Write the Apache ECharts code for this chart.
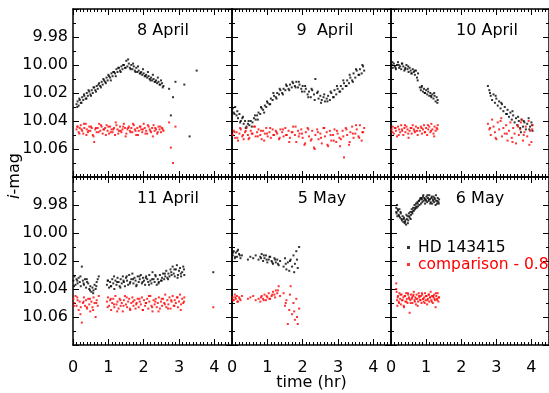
<!DOCTYPE html>
<html>
<head>
<meta charset="utf-8">
<script src="https://cdn.jsdelivr.net/npm/echarts@6/dist/echarts.min.js"></script>
<style>
  html, body { margin: 0; padding: 0; background: #fff; }
  #chart { width: 549px; height: 393px; }
</style>
</head>
<body>
<div id="chart"></div>
<script>
// i-band light curves of HD 143415 and the comparison star (offset by -0.8 mag)
// time in hours since start of each night

// ---- 8 April ----
const t8Apr = [
  0.10,0.13,0.16,0.19,0.22,0.26,0.29,0.32,0.36,0.39,
  0.42,0.46,0.49,0.53,0.56,0.60,0.63,0.67,0.70,0.74,
  0.77,0.81,0.84,0.88,0.91,0.95,0.98,1.02,1.05,1.09,
  1.12,1.16,1.19,1.23,1.26,1.30,1.33,1.37,1.40,1.44,
  1.47,1.51,1.54,1.58,1.61,1.65,1.68,1.72,1.75,1.79,
  1.82,1.86,1.89,1.93,1.96,2.00,2.03,2.07,2.10,2.14,
  2.17,2.21,2.24,2.28,2.31,2.35,2.38,2.42,2.45,2.49,
  2.52,2.56,2.72,2.77,2.83,2.90,3.15,3.30,3.50,
  0.12,0.18,0.24,0.31,0.38,0.44,0.51,0.58,0.65,0.72,
  0.79,0.86,0.93,1.00,1.07,1.14,1.21,1.28,1.35,1.42,
  1.49,1.56,1.63,1.70,1.77,1.84,1.91,1.98,2.05,2.12,
  2.19,2.26,2.33,2.40,2.47,2.54
];
const hd8Apr = [
  10.028,10.026,10.029,10.025,10.027,10.023,10.025,10.022,10.024,10.020,
  10.022,10.019,10.021,10.018,10.020,10.016,10.018,10.015,10.017,10.013,
  10.015,10.012,10.014,10.011,10.012,10.009,10.011,10.008,10.009,10.006,
  10.008,10.005,10.006,10.003,10.005,10.002,10.004,10.001,10.003,10.000,
  10.002,9.997,10.001,9.999,10.002,10.000,10.003,10.001,10.004,10.002,
  10.005,10.004,10.006,10.005,10.007,10.006,10.008,10.007,10.009,10.008,
  10.010,10.009,10.011,10.010,10.012,10.011,10.013,10.012,10.014,10.011,
  10.013,10.015,10.017,10.036,10.023,10.012,10.014,10.051,10.004,
  10.030,10.024,10.027,10.021,10.024,10.018,10.022,10.016,10.019,10.014,
  10.016,10.010,10.013,10.007,10.011,10.005,10.008,10.002,10.005,10.000,
  10.002,9.996,10.003,9.999,10.005,10.001,10.006,10.003,10.008,10.005,
  10.011,10.007,10.012,10.009,10.014,10.016
];
const cmp8Apr = [
  10.046,10.044,10.048,10.045,10.043,10.047,10.049,10.045,10.042,10.046,
  10.048,10.044,10.047,10.045,10.050,10.055,10.046,10.048,10.045,10.042,
  10.047,10.044,10.049,10.046,10.045,10.043,10.047,10.049,10.044,10.046,
  10.048,10.045,10.050,10.043,10.046,10.047,10.044,10.048,10.046,10.042,
  10.045,10.049,10.046,10.044,10.047,10.045,10.048,10.043,10.046,10.050,
  10.045,10.047,10.044,10.046,10.048,10.042,10.045,10.047,10.049,10.044,
  10.046,10.048,10.045,10.043,10.047,10.046,10.049,10.044,10.046,10.048,
  10.045,10.047,10.041,10.059,10.070,10.044,null,null,null,
  10.044,10.049,10.046,10.042,10.050,10.047,10.044,10.051,10.045,10.048,
  10.043,10.046,10.050,10.044,10.048,10.046,10.041,10.049,10.047,10.044,
  10.051,10.045,10.048,10.042,10.047,10.050,10.044,10.046,10.049,10.043,
  10.047,10.051,10.045,10.048,10.044,10.046
];

// ---- 9 April ----
const t9Apr = [
  0.02,0.05,0.09,0.13,0.17,0.21,0.25,0.29,0.33,0.37,
  0.41,0.45,0.49,0.53,0.58,0.62,0.67,0.71,0.75,0.80,
  0.84,0.88,0.93,0.97,1.01,1.06,1.10,1.15,1.19,1.24,
  1.28,1.33,1.37,1.42,1.46,1.51,1.55,1.60,1.64,1.69,
  1.73,1.78,1.82,1.87,1.91,1.96,2.00,2.05,2.09,2.14,
  2.18,2.23,2.27,2.32,2.36,2.41,2.45,2.50,2.54,2.59,
  2.63,2.68,2.72,2.77,2.81,2.86,2.90,2.95,2.99,3.04,
  3.08,3.13,3.17,3.22,3.26,3.31,3.35,3.40,3.44,3.49,
  3.53,3.58,3.62,3.67,3.71,3.74,
  0.07,0.15,0.23,0.31,0.39,0.47,0.56,0.65,0.73,0.82,
  0.91,0.99,1.08,1.17,1.26,1.35,1.44,1.53,1.62,1.71,
  1.80,1.89,1.98,2.07,2.16,2.25,2.34,2.43,2.52,2.61,
  2.70,2.79,2.88,2.97,3.06,3.15,3.24,3.33,3.42,3.51,
  3.60,3.69
];
const hd9Apr = [
  10.031,10.034,10.030,10.036,10.038,10.035,10.040,10.038,10.042,10.040,
  10.044,10.042,10.043,10.040,10.041,10.038,10.039,10.036,10.034,10.035,
  10.031,10.032,10.029,10.030,10.027,10.028,10.024,10.025,10.022,10.023,
  10.020,10.021,10.018,10.020,10.017,10.018,10.015,10.017,10.014,10.016,
  10.013,10.015,10.012,10.016,10.014,10.017,10.015,10.019,10.017,10.021,
  10.019,10.023,10.018,10.021,10.010,10.020,10.024,10.022,10.025,10.023,
  10.026,10.024,10.022,10.025,10.020,10.023,10.018,10.021,10.017,10.019,
  10.015,10.017,10.013,10.015,10.011,10.013,10.009,10.011,10.006,10.009,
  10.004,10.007,10.003,10.006,10.001,10.004,
  10.035,10.033,10.041,10.037,10.045,10.040,10.044,10.036,10.039,10.030,
  10.034,10.026,10.028,10.020,10.024,10.017,10.021,10.014,10.018,10.012,
  10.016,10.012,10.019,10.015,10.023,10.017,10.025,10.019,10.027,10.021,
  10.026,10.019,10.023,10.015,10.019,10.011,10.015,10.007,10.012,10.003,
  10.007,10.000
];
const cmp9Apr = [
  10.050,10.047,10.052,10.048,10.054,10.049,10.046,10.051,10.053,10.048,
  10.045,10.050,10.052,10.047,10.049,10.044,10.051,10.048,10.046,10.050,
  10.053,10.047,10.049,10.045,10.051,10.048,10.052,10.046,10.050,10.047,
  10.049,10.053,10.046,10.048,10.051,10.045,10.050,10.047,10.052,10.048,
  10.044,10.050,10.055,10.047,10.049,10.046,10.052,10.057,10.048,10.045,
  10.051,10.054,10.047,10.059,10.050,10.046,10.053,10.049,10.056,10.045,
  10.051,10.048,10.058,10.047,10.054,10.050,10.046,10.055,10.049,10.052,
  10.053,10.047,10.066,10.045,10.050,10.057,10.048,10.044,10.052,10.049,
  10.046,10.051,10.043,10.054,10.048,10.045,
  10.048,10.052,10.045,10.050,10.047,10.053,10.049,10.044,10.051,10.047,
  10.054,10.049,10.045,10.050,10.048,10.052,10.046,10.050,10.055,10.048,
  10.044,10.051,10.049,10.056,10.046,10.053,10.060,10.048,10.052,10.045,
  10.057,10.050,10.054,10.047,10.058,10.051,10.046,10.055,10.049,10.043,
  10.052,10.048
];

// ---- 10 April ----
const t10Apr = [
  0.02,0.05,0.08,0.11,0.14,0.17,0.20,0.23,0.26,0.29,
  0.32,0.35,0.38,0.41,0.44,0.47,0.50,0.53,0.56,0.59,
  0.62,0.65,0.68,0.71,0.74,0.77,0.82,0.85,0.88,0.91,
  0.94,0.97,1.00,1.03,1.06,1.09,1.12,1.15,1.18,1.21,
  1.24,1.27,1.30,1.33,2.76,2.80,2.84,2.88,2.92,2.96,
  3.00,3.04,3.08,3.12,3.16,3.20,3.24,3.28,3.32,3.36,
  3.40,3.44,3.48,3.52,3.56,3.60,3.64,3.68,3.72,3.76,
  3.80,3.84,3.88,3.92,3.96,4.00,4.03,
  0.04,0.13,0.22,0.31,0.40,0.49,0.58,0.67,0.76,0.87,
  0.96,1.05,1.14,1.23,1.32,2.82,2.98,3.14,3.30,3.46,
  3.62,3.78,3.94,4.02,3.70
];
const hd10Apr = [
  10.000,10.002,9.999,10.001,10.003,10.000,9.998,10.002,10.001,10.003,
  9.999,10.001,10.004,10.002,10.000,10.003,10.005,10.002,10.004,10.006,
  10.003,10.005,10.007,10.004,10.009,10.006,10.016,10.018,10.015,10.019,
  10.017,10.020,10.018,10.021,10.019,10.022,10.020,10.023,10.021,10.024,
  10.022,10.026,10.023,10.025,10.015,10.018,10.022,10.025,10.021,10.027,
  10.024,10.029,10.026,10.031,10.028,10.033,10.030,10.035,10.032,10.037,
  10.034,10.039,10.036,10.041,10.038,10.043,10.040,10.045,10.039,10.044,
  10.041,10.046,10.042,10.038,10.044,10.041,10.047,
  9.998,10.002,10.000,9.999,10.003,10.001,10.006,10.004,10.011,10.016,
  10.020,10.017,10.022,10.020,10.027,10.020,10.022,10.027,10.035,10.033,
  10.037,10.040,10.046,10.043,10.048
];
const cmp10Apr = [
  10.046,10.044,10.049,10.045,10.047,10.051,10.044,10.046,10.048,10.043,
  10.047,10.050,10.045,10.048,10.044,10.046,10.052,10.047,10.045,10.049,
  10.043,10.046,10.048,10.044,10.047,10.045,10.047,10.044,10.049,10.046,
  10.043,10.048,10.045,10.050,10.046,10.044,10.048,10.042,10.046,10.049,
  10.044,10.047,10.045,10.043,10.042,10.046,10.050,10.039,10.044,10.048,
  10.053,10.041,10.046,10.040,10.051,10.045,10.049,10.043,10.054,10.047,
  10.041,10.052,10.045,10.049,10.056,10.043,10.050,10.046,10.039,10.054,
  10.048,10.044,10.051,10.040,10.047,10.055,10.043,
  10.048,10.045,10.050,10.046,10.043,10.049,10.045,10.047,10.050,10.045,
  10.048,10.043,10.047,10.051,10.046,10.045,10.052,10.038,10.049,10.055,
  10.044,10.050,10.057,10.046,10.041
];

// ---- 11 April ----
const t11Apr = [
  0.01,0.04,0.07,0.10,0.13,0.16,0.19,0.22,0.25,0.28,
  0.31,0.34,0.37,0.40,0.43,0.46,0.49,0.52,0.55,0.58,
  0.61,0.64,0.67,0.70,0.73,0.96,0.99,1.02,1.05,1.08,
  1.11,1.14,1.17,1.20,1.23,1.26,1.29,1.32,1.35,1.38,
  1.41,1.44,1.47,1.50,1.53,1.56,1.59,1.62,1.65,1.68,
  1.71,1.74,1.77,1.80,1.83,1.86,1.89,1.92,1.95,1.98,
  2.01,2.04,2.07,2.10,2.13,2.16,2.19,2.22,2.25,2.28,
  2.31,2.34,2.37,2.40,2.43,2.46,2.49,2.52,2.55,2.58,
  2.61,2.64,2.67,2.70,2.73,2.76,2.79,2.82,2.85,2.88,
  2.91,2.94,2.97,3.00,3.03,3.06,3.09,3.12,3.15,3.97,
  0.03,0.12,0.21,0.30,0.39,0.48,0.57,0.66,0.98,1.07,
  1.16,1.25,1.34,1.43,1.52,1.61,1.70,1.79,1.88,1.97,
  2.06,2.15,2.24,2.33,2.42,2.51,2.60,2.69,2.78,2.87,
  2.96,3.05,3.14
];
const hd11Apr = [
  10.034,10.031,10.037,10.033,10.036,10.032,10.035,10.038,10.024,10.034,
  10.037,10.033,10.039,10.035,10.036,10.040,10.038,10.042,10.039,10.041,
  10.037,10.040,10.035,10.033,10.031,10.037,10.034,10.039,10.035,10.038,
  10.033,10.036,10.040,10.034,10.037,10.032,10.035,10.038,10.033,10.036,
  10.031,10.035,10.038,10.032,10.034,10.037,10.030,10.035,10.033,10.029,
  10.036,10.032,10.034,10.037,10.031,10.035,10.033,10.030,10.036,10.032,
  10.034,10.037,10.031,10.033,10.035,10.030,10.034,10.036,10.028,10.033,
  10.035,10.031,10.037,10.033,10.035,10.030,10.034,10.032,10.029,10.033,
  10.031,10.027,10.032,10.029,10.031,10.026,10.030,10.024,10.029,10.031,
  10.026,10.023,10.030,10.027,10.025,10.031,10.028,10.024,10.030,10.028,
  10.038,10.034,10.031,10.036,10.033,10.041,10.043,10.038,10.034,10.038,
  10.031,10.035,10.039,10.034,10.031,10.036,10.033,10.038,10.031,10.035,
  10.032,10.037,10.033,10.030,10.036,10.034,10.029,10.033,10.028,10.026,
  10.032,10.029,10.026
];
const cmp11Apr = [
  10.047,10.050,10.045,10.052,10.048,10.055,10.049,10.053,10.064,10.050,
  10.046,10.052,10.048,10.054,10.047,10.051,10.056,10.049,10.053,10.046,
  10.050,10.060,10.048,10.052,10.045,10.049,10.046,10.052,10.048,10.055,
  10.050,10.047,10.053,10.045,10.051,10.049,10.054,10.047,10.052,10.050,
  10.056,10.048,10.045,10.051,10.053,10.049,10.047,10.055,10.050,10.046,
  10.052,10.048,10.054,10.050,10.047,10.053,10.049,10.051,10.046,10.055,
  10.048,10.052,10.050,10.047,10.054,10.049,10.045,10.052,10.056,10.048,
  10.051,10.047,10.053,10.050,10.046,10.054,10.049,10.052,10.047,10.050,
  10.044,10.053,10.048,10.051,10.046,10.054,10.049,10.045,10.052,10.048,
  10.050,10.046,10.053,10.049,10.044,10.051,10.047,10.050,10.046,10.053,
  10.052,10.046,10.058,10.049,10.053,10.047,10.055,10.050,10.053,10.047,
  10.051,10.056,10.048,10.052,10.046,10.054,10.049,10.051,10.047,10.055,
  10.050,10.045,10.053,10.049,10.056,10.047,10.051,10.054,10.048,10.052,
  10.046,10.055,10.049
];

// ---- 5 May ----
const t5May = [
  0.02,0.05,0.08,0.11,0.14,0.17,0.20,0.24,0.28,0.45,
  0.52,0.60,0.67,0.75,0.80,0.84,0.88,0.92,0.96,1.00,
  1.04,1.08,1.12,1.16,1.20,1.24,1.28,1.32,1.36,1.46,
  1.50,1.54,1.58,1.62,1.66,1.70,1.74,1.78,1.82,1.86,
  1.90,
  0.03,0.09,0.15,0.22,0.82,0.90,0.98,1.06,1.14,1.22,
  1.30,1.52,1.64,1.76,1.84
];
const hd5May = [
  10.016,10.013,10.018,10.014,10.017,10.012,10.015,10.018,10.016,10.019,
  10.017,10.018,10.016,10.019,10.017,10.015,10.020,10.018,10.016,10.021,
  10.019,10.017,10.020,10.022,10.018,10.021,10.019,10.023,10.020,10.024,
  10.018,10.026,10.021,10.027,10.019,10.024,10.016,10.022,10.013,10.025,
  10.010,
  10.014,10.017,10.013,10.016,10.018,10.016,10.019,10.017,10.021,10.019,
  10.022,10.022,10.020,10.028,10.019
];
const cmp5May = [
  10.046,10.048,10.044,10.047,10.045,10.049,10.046,10.048,10.045,10.047,
  10.046,10.045,10.048,10.047,10.049,10.045,10.047,10.044,10.048,10.046,
  10.043,10.047,10.045,10.042,10.044,10.041,10.043,10.038,10.045,10.043,
  10.052,10.048,10.065,10.055,10.038,10.058,10.050,10.062,10.047,10.065,
  10.054,
  10.048,10.046,10.049,10.047,10.046,10.048,10.045,10.047,10.044,10.046,
  10.041,10.050,10.044,10.056,10.060
];

// ---- 6 May ----
const t6May = [
  0.15,0.16,0.17,0.18,0.20,0.22,0.24,0.26,0.28,0.30,
  0.33,0.35,0.37,0.39,0.41,0.43,0.45,0.47,0.49,0.51,
  0.53,0.55,0.57,0.59,0.61,0.63,0.65,0.67,0.69,0.71,
  0.73,0.75,0.77,0.79,0.81,0.83,0.85,0.87,0.89,0.91,
  0.93,0.95,0.97,0.99,1.01,1.03,1.05,1.07,1.09,1.11,
  1.13,1.15,1.17,1.19,1.21,1.23,1.25,1.27,1.29,1.31,
  1.33,1.35,1.37,
  0.15,0.19,0.23,0.27,0.31,0.36,0.40,0.44,0.48,0.52,
  0.56,0.60,0.64,0.68,0.72,0.76,0.80,0.84,0.88,0.92,
  0.96,1.00,1.04,1.08,1.12,1.16,1.20,1.24,1.28,1.32,
  1.36
];
const hd6May = [
  9.982,9.986,9.980,9.988,9.984,9.987,9.983,9.989,9.986,9.990,
  9.988,9.992,9.989,9.993,9.991,9.994,9.990,9.988,9.991,9.986,
  9.989,9.985,9.987,9.983,9.986,9.982,9.984,9.980,9.983,9.979,
  9.982,9.978,9.981,9.977,9.980,9.976,9.979,9.975,9.978,9.974,
  9.977,9.975,9.979,9.976,9.974,9.978,9.975,9.977,9.973,9.976,
  9.978,9.975,9.979,9.976,9.974,9.978,9.976,9.980,9.977,9.979,
  9.975,9.978,9.976,
  9.985,9.983,9.988,9.985,9.991,9.990,9.992,9.987,9.993,9.988,
  9.990,9.985,9.984,9.982,9.981,9.979,9.977,9.975,9.976,9.973,
  9.976,9.977,9.973,9.976,9.979,9.974,9.977,9.975,9.973,9.977,
  9.979
];
const cmp6May = [
  10.036,10.042,10.048,10.052,10.045,10.049,10.043,10.047,10.051,10.044,
  10.048,10.046,10.053,10.045,10.049,10.043,10.047,10.050,10.044,10.046,
  10.057,10.048,10.044,10.047,10.050,10.045,10.042,10.048,10.046,10.051,
  10.044,10.047,10.049,10.043,10.046,10.048,10.045,10.050,10.044,10.047,
  10.049,10.046,10.043,10.048,10.045,10.051,10.047,10.044,10.049,10.046,
  10.042,10.048,10.045,10.050,10.046,10.044,10.048,10.053,10.045,10.047,
  10.043,10.049,10.046,
  10.040,10.046,10.050,10.044,10.048,10.052,10.045,10.049,10.043,10.047,
  10.050,10.046,10.044,10.049,10.047,10.052,10.045,10.048,10.043,10.047,
  10.050,10.045,10.048,10.044,10.046,10.049,10.045,10.047,10.043,10.048,
  10.046
];

const nightTitles = ['8 April', '9  April', '10 April', '11 April', '5 May', '6 May'];
const timeSets = [t8Apr, t9Apr, t10Apr, t11Apr, t5May, t6May];
const starSets = [hd8Apr, hd9Apr, hd10Apr, hd11Apr, hd5May, hd6May];
const compSets = [cmp8Apr, cmp9Apr, cmp10Apr, cmp11Apr, cmp5May, cmp6May];

const starName = 'HD 143415';
const compName = 'comparison - 0.8';
const timeTicks = { min: 0, max: 4.5, step: 1 };
const magTicks = { min: 9.96, max: 10.08, step: 0.02 };

// ---- layout ----
const FONT = 'DejaVu Sans';
const colLeft = [73, 232, 391];
const colWidth = [159, 159, 160];
const rowTop = [9, 177];
const panelH = 168;
const titleX = [163, 325, 487, 168, 322, 480];
const titleY = [31, 199];

const pairs = (t, v) => t.map((x, k) => [x, v[k]]).filter(p => p[1] != null);

const lineStyle = { color: '#000', width: 1.5 };
const tickStyle = { color: '#000', width: 1 };

const grids = [], xAxes = [], yAxes = [], series = [], graphics = [];

nightTitles.forEach((name, i) => {
  const row = Math.floor(i / 3), col = i % 3;
  grids.push({ left: colLeft[col], top: rowTop[row], width: colWidth[col], height: panelH, containLabel: false });

  ['bottom', 'top'].forEach(pos => {
    xAxes.push({
      type: 'value', gridIndex: i, position: pos,
      min: timeTicks.min, max: timeTicks.max, interval: timeTicks.step,
      axisLine: { show: true, onZero: false, lineStyle },
      axisTick: { show: true, inside: true, length: 6, lineStyle: tickStyle },
      minorTick: { show: true, splitNumber: 10, length: 3, lineStyle: tickStyle },
      splitLine: { show: false },
      axisLabel: {
        show: pos === 'bottom' && row === 1, showMaxLabel: false,
        color: '#000', fontFamily: FONT, fontSize: 16, margin: 15,
        formatter: v => String(v)
      }
    });
  });

  ['left', 'right'].forEach(pos => {
    yAxes.push({
      type: 'value', gridIndex: i, position: pos, inverse: true,
      min: magTicks.min, max: magTicks.max, interval: magTicks.step,
      axisLine: { show: true, onZero: false, lineStyle },
      axisTick: { show: true, inside: true, length: 6, lineStyle: tickStyle },
      minorTick: { show: true, splitNumber: 2, length: 3, lineStyle: tickStyle },
      splitLine: { show: false },
      axisLabel: {
        show: pos === 'left' && col === 0, showMinLabel: false, showMaxLabel: false,
        color: '#000', fontFamily: FONT, fontSize: 16, margin: 5,
        formatter: v => v.toFixed(2)
      }
    });
  });

  series.push({
    type: 'scatter', name: starName, xAxisIndex: 2 * i, yAxisIndex: 2 * i,
    symbol: 'rect', symbolSize: 2, itemStyle: { color: '#000' },
    data: pairs(timeSets[i], starSets[i]), silent: true
  });
  series.push({
    type: 'scatter', name: compName, xAxisIndex: 2 * i, yAxisIndex: 2 * i,
    symbol: 'rect', symbolSize: 2, itemStyle: { color: '#ff0000' },
    data: pairs(timeSets[i], compSets[i]), silent: true
  });

  graphics.push({
    type: 'text', x: titleX[i], y: titleY[row],
    style: { text: name, fill: '#000', font: '16px "' + FONT + '"',
             align: 'center', verticalAlign: 'middle',
             textAlign: 'center', textVerticalAlign: 'middle' }
  });
});

graphics.push({
  type: 'text', x: 311.5, y: 383,
  style: { text: 'time (hr)', fill: '#000', font: '16px "' + FONT + '"',
           align: 'center', verticalAlign: 'middle',
           textAlign: 'center', textVerticalAlign: 'middle' }
});
graphics.push({
  type: 'text', x: 15, y: 176, rotation: Math.PI / 2,
  style: {
    text: '{it|i}-mag', fill: '#000', fontFamily: FONT, fontSize: 16,
    align: 'center', verticalAlign: 'middle',
    textAlign: 'center', textVerticalAlign: 'middle',
    rich: { it: { fontStyle: 'italic', fontFamily: FONT, fontSize: 16, fill: '#000' } }
  }
});

const chart = echarts.init(document.getElementById('chart'), null, { renderer: 'canvas' });
chart.setOption({
  animation: false,
  backgroundColor: '#fff',
  grid: grids,
  xAxis: xAxes,
  yAxis: yAxes,
  series: series,
  legend: {
    orient: 'vertical', left: 402, top: 234,
    itemWidth: 3, itemHeight: 3, itemGap: 0,
    selectedMode: false,
    textStyle: { fontFamily: FONT, fontSize: 15.5, lineHeight: 17, padding: [0, 0, 0, 3] },
    data: [
      { name: starName, icon: 'rect', itemStyle: { color: '#000' }, textStyle: { color: '#000' } },
      { name: compName, icon: 'rect', itemStyle: { color: '#ff0000' }, textStyle: { color: '#ff0000' } }
    ]
  },
  graphic: graphics
});
</script>
</body>
</html>
